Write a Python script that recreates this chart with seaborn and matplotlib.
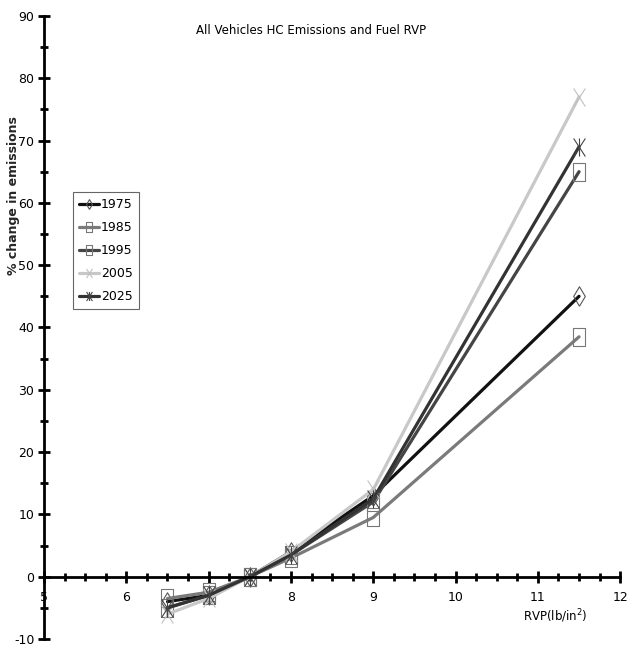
import numpy as np
import pandas as pd
import matplotlib
matplotlib.use('Agg')
import matplotlib.pyplot as plt
from matplotlib.path import Path
from matplotlib.ticker import MultipleLocator
import seaborn as sns

# Data
rvp = [6.5, 7.0, 7.5, 8.0, 9.0, 11.5]
tahun = ['1975', '1985', '1995', '2005', '2025']
v1975 = [-4.0, -3.0, 0.0, 4.0, 13.0, 45.0]
v1985 = [-3.5, -2.5, 0.0, 3.0, 9.5, 38.5]
v1995 = [-5.0, -3.0, 0.0, 3.5, 12.0, 65.0]
v2005 = [-6.0, -3.5, 0.0, 4.0, 14.0, 77.0]
v2025 = [-5.0, -3.0, 0.0, 3.5, 12.5, 69.0]
nilai = [v1975, v1985, v1995, v2005, v2025]

# penanda tinggi (gaya Excel yang tertarik vertikal)
M, L = Path.MOVETO, Path.LINETO
kotak = Path([(-0.65, -1), (0.65, -1), (0.65, 1), (-0.65, 1), (-0.65, -1)])
belah = Path([(0, -1), (0.6, 0), (0, 1), (-0.6, 0), (0, -1)])
silang = Path([(-0.65, -1), (0.65, 1), (-0.65, 1), (0.65, -1)], [M, L, M, L])
bintang = Path([(-0.65, -1), (0.65, 1), (-0.65, 1), (0.65, -1), (0, -1), (0, 1)],
               [M, L, M, L, M, L])

warna = ['#111111', '#7a7a7a', '#454545', '#c8c8c8', '#333333']
tepi = ['#555555', '#777777', '#777777', '#c0c0c0', '#444444']
penanda = [belah, kotak, kotak, silang, bintang]
ukuran = [14, 13, 13, 13, 13]

sns.set_style('white')
plt.rcParams['font.family'] = ['DejaVu Sans']
plt.rcParams['text.color'] = 'black'
plt.rcParams['xtick.color'] = 'black'
plt.rcParams['ytick.color'] = 'black'

fig = plt.figure(figsize=(6.29, 6.47), dpi=100)
ax = fig.add_axes([0.070, 0.0124, 0.916, 0.963])

for th, v, c, e, m, s in zip(tahun, nilai, warna, tepi, penanda, ukuran):
    sns.lineplot(x=rvp, y=v, ax=ax, color=c, lw=2.3, label=th,
                 marker=m, ms=s, mfc='none', mec=e, mew=0.8)

ax.set_xlim(5, 12)
ax.set_ylim(-10, 90)
ax.spines['top'].set_visible(False)
ax.spines['right'].set_visible(False)
ax.spines['bottom'].set_position(('data', 0))
for sp in ['left', 'bottom']:
    ax.spines[sp].set_linewidth(2.0)
    ax.spines[sp].set_color('black')

ax.set_xticks(range(5, 13))
ax.set_xticklabels([str(i) for i in range(5, 13)])
ax.set_yticks(range(-10, 91, 10))
ax.set_yticklabels([str(i) for i in range(-10, 91, 10)])
ax.xaxis.set_minor_locator(MultipleLocator(0.25))
ax.yaxis.set_minor_locator(MultipleLocator(5))
ax.tick_params(which='both', direction='inout', width=2, color='black',
               left=True, bottom=True, labelsize=9, labelcolor='black')
ax.tick_params(which='major', length=8)
ax.tick_params(which='minor', length=6)
ax.tick_params(axis='x', pad=6)
ax.tick_params(axis='y', pad=3)

ax.set_xlabel('')
ax.set_ylabel('% change in emissions', fontsize=9, fontweight='bold')
ax.yaxis.set_label_coords(-0.042, 0.712)

fig.text(311 / 629, 1 - 30 / 647, 'All Vehicles HC Emissions and Fuel RVP',
         ha='center', va='center', fontsize=8.5)
fig.text(555 / 629, 1 - 616 / 647, 'RVP(lb/in$^2$)', ha='center', va='center',
         fontsize=8.5)

leg = ax.legend(loc='upper left', bbox_to_anchor=(73 / 629, 1 - 192 / 647),
                bbox_transform=fig.transFigure, borderaxespad=0, fancybox=False,
                framealpha=1, edgecolor='#666666', fontsize=9, handlelength=1.6,
                handletextpad=0.15, labelspacing=0.8, borderpad=0.5,
                markerscale=0.5)
leg.get_frame().set_linewidth(0.8)

fig.savefig('out.png', dpi=100)
